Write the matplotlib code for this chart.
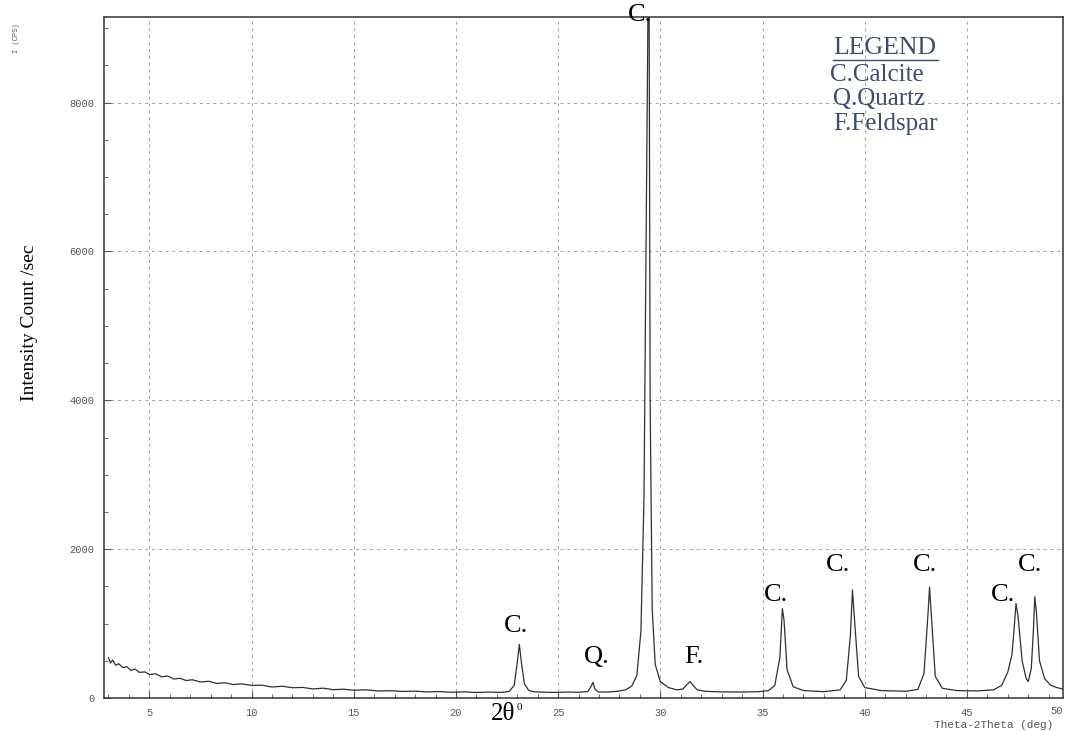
import matplotlib
matplotlib.use("Agg")
import matplotlib.pyplot as plt
from matplotlib.ticker import MultipleLocator

# XRD trace: 2-theta (deg) and intensity (counts/sec)
two_theta = [
    3.0, 3.1, 3.2, 3.35, 3.5, 3.7, 3.9, 4.1, 4.3, 4.5, 4.8, 5.0, 5.3, 5.6, 5.9,
    6.2, 6.5, 6.8, 7.1, 7.5, 7.9, 8.3, 8.7, 9.1, 9.5, 10.0, 10.5, 11.0, 11.5,
    12.0, 12.5, 13.0, 13.5, 14.0, 14.5, 15.0, 15.6, 16.2, 16.8, 17.4, 18.0,
    18.6, 19.2, 19.8, 20.4, 21.0, 21.6, 22.2, 22.6, 22.85, 23.0, 23.1, 23.2,
    23.35, 23.55, 23.8, 24.3, 24.9, 25.5, 26.0, 26.45, 26.6, 26.7, 26.8, 26.95,
    27.4, 27.9, 28.3, 28.6, 28.85, 29.05, 29.2, 29.3, 29.4, 29.45, 29.5, 29.6,
    29.75, 30.0, 30.4, 30.8, 31.1, 31.3, 31.45, 31.6, 31.8, 32.2, 33.0, 34.0,
    34.8, 35.3, 35.6, 35.85, 35.97, 36.05, 36.2, 36.5, 37.0, 38.0, 38.8, 39.1,
    39.3, 39.4, 39.5, 39.7, 40.0, 40.8, 42.0, 42.6, 42.9, 43.1, 43.17, 43.25,
    43.45, 43.8, 44.5, 45.5, 46.3, 46.7, 47.0, 47.2, 47.3, 47.4, 47.5, 47.7,
    47.9, 48.0, 48.15, 48.25, 48.32, 48.4, 48.55, 48.8, 49.1, 49.4, 49.7,
]
intensity = [
    540, 470, 510, 440, 460, 410, 420, 370, 390, 345, 350, 315, 325, 285, 295,
    255, 265, 235, 245, 215, 225, 195, 205, 180, 190, 170, 172, 148, 158,
    138, 142, 122, 132, 112, 118, 104, 110, 94, 98, 88, 92,
    82, 86, 77, 83, 74, 80, 75, 88, 170, 480, 720, 480,
    190, 105, 84, 78, 75, 80, 77, 88, 150, 210, 120, 82,
    80, 90, 110, 160, 300, 900, 2700, 6000, 9400, 9400, 4000, 1200,
    450, 220, 140, 110, 120, 180, 220, 170, 110, 90, 82, 80,
    85, 100, 170, 550, 1200, 1050, 380, 150, 100, 85, 110, 240,
    850, 1450, 1050, 290, 140, 100, 90, 115, 330, 1150, 1490, 1150,
    290, 130, 100, 95, 110, 170, 350, 580, 900, 1270, 1100, 500,
    260, 220, 400, 900, 1360, 1150, 500, 260, 170, 140, 120,
]

# phase labels above the peaks: text, 2-theta and intensity where each sits
peak_labels = ["C.", "Q.", "C.", "F.", "C.", "C.", "C.", "C.", "C."]
label_theta = [22.94, 26.9, 29.0, 31.64, 35.66, 38.69, 42.95, 46.76, 48.08]
label_y = [968, 551, 9180, 551, 1384, 1788, 1788, 1384, 1788]

legend_lines = ["C.Calcite", "Q.Quartz", "F.Feldspar"]

SERIF = ["Liberation Serif", "DejaVu Serif"]
MONO = ["Liberation Mono", "DejaVu Sans Mono"]
LEG = "#3b4a78"
W, H = 1067, 731

fig = plt.figure(figsize=(W / 100, H / 100), dpi=100)
ax = fig.add_axes([104 / W, (H - 698) / H, 959 / W, 681 / H])

ax.plot(two_theta, intensity, color="#303030", lw=0.9)

ax.set_xlim(2.78, 49.7)
ax.set_ylim(0, 9150)
ax.xaxis.set_major_locator(MultipleLocator(5))
ax.xaxis.set_minor_locator(MultipleLocator(1))
ax.yaxis.set_major_locator(MultipleLocator(2000))
ax.yaxis.set_minor_locator(MultipleLocator(500))
ax.grid(True, which="major", color="#a0a0a0", ls=(0, (3, 4)), lw=0.7)
ax.tick_params(which="both", direction="in", labelsize=7.5, colors="#555555", pad=7)
ax.tick_params(which="major", length=5)
ax.tick_params(which="minor", length=3)
for lab in ax.get_xticklabels() + ax.get_yticklabels():
    lab.set_family(MONO)
for s in ax.spines.values():
    s.set_color("#333333")
    s.set_linewidth(1.1)
ax.text(1.0, -0.012, "50", transform=ax.transAxes, family=MONO, fontsize=7.5,
        color="#555555", ha="right", va="top")

ax.set_ylabel("Intensity Count /sec", family=SERIF, fontsize=14)
ax.yaxis.set_label_coords(-0.069, 0.551)

for t, x, y in zip(peak_labels, label_theta, label_y):
    ax.text(x, y, t, family=SERIF, fontsize=19, ha="center", va="center",
            clip_on=False)

# legend block, typed onto the scan as plain text
fig.text(885 / W, 1 - 48 / H, "LEGEND", family=SERIF, fontsize=18.5, color=LEG,
         ha="center", va="center")
fig.add_artist(plt.Line2D([833 / W, 938 / W], [1 - 60 / H, 1 - 60 / H],
                          color=LEG, lw=1.0))
leg_x = [830, 833, 833]
leg_y = [75, 99, 124]
for s, x, y in zip(legend_lines, leg_x, leg_y):
    fig.text(x / W, 1 - y / H, s, family=SERIF, fontsize=18, color=LEG,
             ha="left", va="center")

fig.text(503 / W, 1 - 714 / H, "2θ", family=SERIF, fontsize=18,
         ha="center", va="center")
fig.text(519 / W, 1 - 707 / H, "0", family=SERIF, fontsize=8,
         ha="center", va="center")
fig.text(994 / W, 1 - 725 / H, "Theta-2Theta (deg)", family=MONO,
         fontsize=8, ha="center", va="center", color="#555555")
fig.text(16 / W, 1 - 38 / H, "I (CPS)", family=MONO, fontsize=5,
         rotation=90, ha="center", va="center", color="#555555")

fig.savefig("out.png", dpi=100)
